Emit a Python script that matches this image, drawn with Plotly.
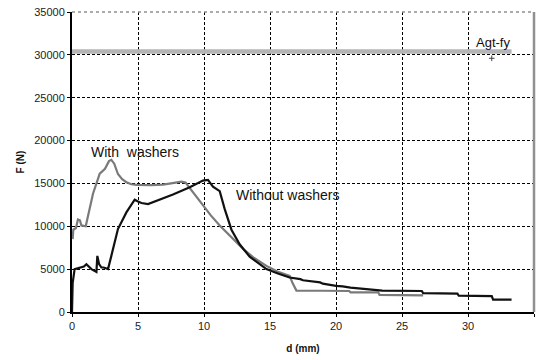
import plotly.graph_objects as go

# With washers (gray curve)
ww_d = [0.05, 0.1, 0.3, 0.45, 0.6, 0.71, 1.04, 1.3, 1.59, 2.1, 2.5, 2.8, 2.98, 3.2, 3.48, 3.8,
        4.12, 4.5, 4.88, 6.0, 6.89, 7.5, 8.29, 8.6, 9.0, 9.5, 10.0, 10.5, 11.19, 12.0, 12.98,
        13.8, 14.73, 15.6, 16.49, 16.7, 17.0, 19.0, 21.0, 21.1, 23.2, 23.3, 26.6]
ww_F = [8500, 9600, 9800, 10800, 10700, 10100, 10000, 12000, 13800, 16150, 16700, 17600, 17750,
        17300, 16100, 15500, 15140, 14900, 14830, 14800, 14850, 15000, 15200, 15100, 14300, 13200,
        12200, 11300, 10100, 8900, 7340, 6300, 5380, 4700, 4210, 3400, 2500, 2480, 2450, 2300,
        2280, 2000, 1950]

# Without washers (black curve)
wo_d = [0, 0.05, 0.2, 0.58, 0.9, 1.09, 1.3, 1.47, 1.85, 1.92, 2.05, 2.23, 2.4, 2.73, 2.98, 3.2,
        3.48, 4.12, 4.5, 4.75, 5.0, 5.26, 5.76, 6.64, 7.65, 8.92, 9.92, 10.3, 10.68, 11.19, 11.57,
        12.08, 12.7, 13.46, 14.22, 14.73, 15.6, 16.49, 17.3, 17.5, 18.8, 19.0, 20.0, 20.5, 21.1,
        21.5, 22.5, 23.0, 23.5, 26.5, 26.6, 29.2, 29.3, 31.8, 31.9, 33.3]
wo_F = [0, 3400, 5000, 5190, 5300, 5580, 5300, 5000, 4680, 6550, 5600, 5190, 5190, 5000, 6550,
        7800, 9680, 11620, 12500, 13100, 12900, 12720, 12600, 13100, 13700, 14550, 15330, 15420,
        14630, 14100, 12000, 9600, 7900, 6450, 5580, 5000, 4500, 4020, 3830, 3700, 3450, 3300,
        3050, 3000, 2850, 2800, 2650, 2600, 2500, 2450, 2200, 2150, 1900, 1850, 1450, 1450]

# Agt-fy reference level
agt_d = [0, 33.3]
agt_F = [30400, 30400]
agt_mark_d = [31.8]
agt_mark_F = [29600]

x_ticks = [0, 5, 10, 15, 20, 25, 30, 35]
y_ticks = [0, 5000, 10000, 15000, 20000, 25000, 30000, 35000]
y_ticktext = [str(v) for v in y_ticks]

FONT = "Arial, Liberation Sans, sans-serif"

fig = go.Figure()
fig.add_trace(go.Scatter(x=agt_d, y=agt_F, mode="lines",
                         line=dict(color="#b4b4b4", width=4.5), showlegend=False))
fig.add_trace(go.Scatter(x=agt_mark_d, y=agt_mark_F, mode="markers",
                         marker=dict(symbol="cross-thin", size=4, color="#444",
                                     line=dict(width=1, color="#444")), showlegend=False))
fig.add_trace(go.Scatter(x=ww_d, y=ww_F, mode="lines",
                         line=dict(color="#7a7a7a", width=2.2), showlegend=False))
fig.add_trace(go.Scatter(x=wo_d, y=wo_F, mode="lines",
                         line=dict(color="#111111", width=2.2), showlegend=False))

fig.add_annotation(x=4.75, y=18700, text="With  washers", showarrow=False,
                   font=dict(family=FONT, size=14, color="#111"))
fig.add_annotation(x=16.35, y=13640, text="Without washers", showarrow=False,
                   font=dict(family=FONT, size=14, color="#111"))
fig.add_annotation(x=31.9, y=31500, text="Agt-fy", showarrow=False,
                   font=dict(family=FONT, size=13, color="#111"))

# top and right border
fig.add_shape(type="line", xref="paper", yref="paper", x0=0, x1=1, y0=1, y1=1,
              line=dict(color="#909090", width=1.5, dash="dot"))
fig.add_shape(type="line", xref="paper", yref="paper", x0=1, x1=1, y0=0, y1=1,
              line=dict(color="#909090", width=2.5))

fig.update_xaxes(range=[0, 35], tickvals=x_ticks, showgrid=True, gridcolor="#000",
                 griddash="3px,2px", gridwidth=1, showline=True, linecolor="#000", linewidth=2,
                 ticks="outside", ticklen=3, tickcolor="#000", zeroline=False,
                 tickfont=dict(family=FONT, size=11, color="#222"),
                 title=dict(text="<b>d (mm)</b>", standoff=14,
                            font=dict(family=FONT, size=10, color="#111")))
fig.update_yaxes(range=[0, 35000], tickvals=y_ticks, ticktext=y_ticktext, showgrid=True,
                 gridcolor="#000", griddash="3px,2px", gridwidth=1, showline=True,
                 linecolor="#000", linewidth=2,
                 ticks="outside", ticklen=3, tickcolor="#000", zeroline=False,
                 tickfont=dict(family=FONT, size=11, color="#222"),
                 title=dict(text="<b>F (N)</b>", standoff=8,
                            font=dict(family=FONT, size=10, color="#111")))

fig.update_layout(width=539, height=360, margin=dict(l=72, r=5, t=12, b=48),
                  plot_bgcolor="white", paper_bgcolor="white")
fig.write_html("out.html")
